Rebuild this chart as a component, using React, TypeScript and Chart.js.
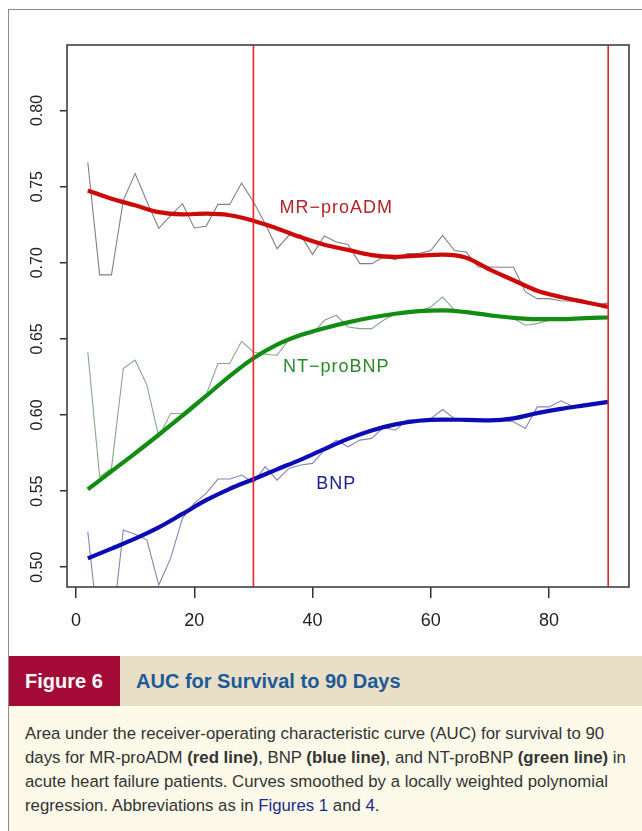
import React, { useEffect, useRef } from "react";
import { Chart, registerables } from "chart.js";

Chart.register(...registerables);

// ---- data ----
const rawDays = [2, 4, 6, 8, 10, 12, 14, 16, 18, 20, 22, 24, 26, 28, 30, 32, 34, 36, 38, 40, 42, 44, 46, 48, 50, 52, 54, 56, 58, 60, 62, 64, 66, 68, 70, 72, 74, 76, 78, 80, 82, 84, 86, 88, 90];
const mrRaw = [0.766, 0.692, 0.692, 0.741, 0.7585, 0.740, 0.7226, 0.731, 0.7388, 0.7228, 0.7239, 0.7383, 0.7383, 0.7523, 0.740, 0.7256, 0.7092, 0.718, 0.7183, 0.7055, 0.7175, 0.7136, 0.712, 0.6994, 0.6994, 0.7038, 0.702, 0.706, 0.706, 0.708, 0.718, 0.708, 0.707, 0.6972, 0.6972, 0.697, 0.697, 0.6808, 0.6764, 0.6764, 0.675, 0.6747, 0.6735, 0.672, 0.6736];
const ntRaw = [0.6414, 0.5594, 0.5649, 0.6305, 0.636, 0.6196, 0.5856, 0.601, 0.601, 0.6075, 0.613, 0.6338, 0.6338, 0.6484, 0.6414, 0.6399, 0.6392, 0.6495, 0.6517, 0.6535, 0.6622, 0.6655, 0.6578, 0.6567, 0.6567, 0.6622, 0.6666, 0.6683, 0.6683, 0.6709, 0.6775, 0.6688, 0.6677, 0.6666, 0.6644, 0.664, 0.6633, 0.6589, 0.66, 0.6622, 0.6633, 0.6633, 0.664, 0.664, 0.6642];
const bnpRaw = [0.5233, 0.452, 0.455, 0.5244, 0.5216, 0.5178, 0.4883, 0.5058, 0.5321, 0.5419, 0.5485, 0.5579, 0.5579, 0.5605, 0.5555, 0.566, 0.5572, 0.5649, 0.5671, 0.5682, 0.5769, 0.5835, 0.5791, 0.5835, 0.5846, 0.5918, 0.59, 0.5966, 0.597, 0.5976, 0.6036, 0.5976, 0.5966, 0.5962, 0.5962, 0.5962, 0.5955, 0.5911, 0.6053, 0.6053, 0.6093, 0.6058, 0.6071, 0.608, 0.6076];

const smoothDays = [2, 6, 10, 14, 18, 22, 26, 30, 34, 38, 42, 46, 50, 54, 58, 62, 66, 70, 74, 78, 82, 86, 90];
const mrSmooth = [0.7475, 0.742, 0.7377, 0.7332, 0.7318, 0.7322, 0.7312, 0.7276, 0.7225, 0.7168, 0.7118, 0.7084, 0.705, 0.7038, 0.7047, 0.7053, 0.7033, 0.6955, 0.6885, 0.6816, 0.6775, 0.6742, 0.671];
const ntSmooth = [0.5511, 0.563, 0.5748, 0.587, 0.5995, 0.6125, 0.6255, 0.6372, 0.6462, 0.6525, 0.657, 0.6608, 0.664, 0.6665, 0.6682, 0.6687, 0.6675, 0.6655, 0.6638, 0.663, 0.663, 0.6636, 0.664];
const bnpSmooth = [0.5058, 0.5122, 0.5188, 0.5262, 0.535, 0.544, 0.5515, 0.5578, 0.5643, 0.5707, 0.5776, 0.5843, 0.5898, 0.5938, 0.5962, 0.597, 0.5968, 0.5965, 0.5978, 0.6012, 0.604, 0.6063, 0.6086];

const xTicks = [0, 20, 40, 60, 80];
const yTicks = [0.5, 0.55, 0.6, 0.65, 0.7, 0.75, 0.8];
const xRange = [-1.52, 93.52];
const yRange = [0.487, 0.843];
const cutoffDays = [30, 90];

const seriesNames = ["MR−proADM", "NT−proBNP", "BNP"];
const seriesLabelDay = [44, 44, 44];
const seriesLabelAUC = [0.7357, 0.6314, 0.5546];

const FONT = "'Liberation Sans', Arial, Helvetica, sans-serif";

const pts = (xs: number[], ys: number[]) => xs.map((x, i) => ({ x, y: ys[i] }));

const textPlugin = {
  id: "boxAndLabels",
  afterDatasetsDraw(chart: any) {
    const { ctx, chartArea, scales } = chart;
    ctx.save();
    ctx.strokeStyle = "#333";
    ctx.lineWidth = 1.5;
    ctx.strokeRect(chartArea.left, chartArea.top, chartArea.right - chartArea.left, chartArea.bottom - chartArea.top);
    const colors = ["#b3242a", "#2a8a2a", "#1c2290"];
    ctx.font = `18px ${FONT}`;
    ctx.textAlign = "center";
    ctx.textBaseline = "middle";
    try { (ctx as any).letterSpacing = "1px"; } catch (e) {}
    seriesNames.forEach((name, i) => {
      ctx.fillStyle = colors[i];
      ctx.fillText(name, scales.x.getPixelForValue(seriesLabelDay[i]), scales.y.getPixelForValue(seriesLabelAUC[i]));
    });
    ctx.restore();
  },
};

function ChartCanvas() {
  const ref = useRef<HTMLCanvasElement | null>(null);
  useEffect(() => {
    if (!ref.current) return;
    const vLine = (d: number) => [{ x: d, y: yRange[0] }, { x: d, y: yRange[1] }];
    const chart = new Chart(ref.current, {
      type: "line",
      data: {
        datasets: [
          ...cutoffDays.map((d) => ({ data: vLine(d), borderColor: "#e8262b", borderWidth: 1.6, pointRadius: 0, tension: 0 })),
          { data: pts(smoothDays, mrSmooth), borderColor: "#cc0a0a", borderWidth: 4.2, pointRadius: 0, cubicInterpolationMode: "monotone" },
          { data: pts(smoothDays, ntSmooth), borderColor: "#138c13", borderWidth: 4.2, pointRadius: 0, cubicInterpolationMode: "monotone" },
          { data: pts(smoothDays, bnpSmooth), borderColor: "#0c0cb4", borderWidth: 4.2, pointRadius: 0, cubicInterpolationMode: "monotone" },
          { data: pts(rawDays, mrRaw), borderColor: "#808080", borderWidth: 1.1, pointRadius: 0, tension: 0 },
          { data: pts(rawDays, ntRaw), borderColor: "#88a888", borderWidth: 1.1, pointRadius: 0, tension: 0 },
          { data: pts(rawDays, bnpRaw), borderColor: "#8484b4", borderWidth: 1.1, pointRadius: 0, tension: 0 },
        ] as any,
      },
      options: {
        animation: false,
        responsive: false,
        events: [],
        layout: { padding: { left: 0, top: 45, right: 13, bottom: 0 } },
        plugins: { legend: { display: false }, tooltip: { enabled: false }, title: { display: false } },
        scales: {
          x: {
            type: "linear",
            min: xRange[0],
            max: xRange[1],
            border: { display: false },
            grid: { display: true, drawOnChartArea: false, drawTicks: true, tickLength: 11, color: "#333", lineWidth: 1.5 },
            ticks: { autoSkip: false, padding: 12, color: "#222", font: { size: 18, family: FONT }, maxRotation: 0, callback: (v: any) => String(v) },
            afterBuildTicks: (s: any) => { s.ticks = xTicks.map((v) => ({ value: v })); },
            afterFit: (s: any) => { s.height = 63; },
          },
          y: {
            type: "linear",
            min: yRange[0],
            max: yRange[1],
            border: { display: false },
            grid: { display: true, drawOnChartArea: false, drawTicks: true, tickLength: 7, color: "#333", lineWidth: 1.5 },
            ticks: { autoSkip: false, minRotation: 90, maxRotation: 90, crossAlign: "center", padding: 7, color: "#222", font: { size: 16, family: FONT }, callback: (v: any) => Number(v).toFixed(2) },
            afterBuildTicks: (s: any) => { s.ticks = yTicks.map((v) => ({ value: v })); },
            afterFit: (s: any) => { s.width = 67; },
          },
        },
      } as any,
      plugins: [textPlugin],
    });
    return () => chart.destroy();
  }, []);
  return <canvas ref={ref} width={642} height={650} style={{ position: "absolute", left: 0, top: 0, width: 642, height: 650 }} />;
}

export default function App() {
  const link = { color: "#1b2a8c" };
  return (
    <div style={{ position: "absolute", left: 0, top: 0, width: 642, height: 831, overflow: "hidden", background: "#fff", fontFamily: FONT }}>
      <div style={{ position: "absolute", left: 8, top: 9, width: 640, height: 830, borderTop: "1px solid #8a8a8a", borderLeft: "1px solid #8a8a8a" }} />
      <ChartCanvas />
      <div style={{ position: "absolute", left: 9, top: 656, width: 633, height: 50, background: "#e9dfc7" }}>
        <div style={{ position: "absolute", left: 0, top: 0, width: 111, height: 50, background: "#a40b37" }} />
        <div style={{ position: "absolute", left: 16, top: 0, height: 50, lineHeight: "50px", color: "#fff", fontWeight: "bold", fontSize: 20 }}>Figure 6</div>
        <div style={{ position: "absolute", left: 127, top: 0, height: 50, lineHeight: "50px", color: "#1d5a98", fontWeight: "bold", fontSize: 20, whiteSpace: "nowrap" }}>AUC for Survival to 90 Days</div>
      </div>
      <div style={{ position: "absolute", left: 9, top: 706, width: 633, height: 125, background: "#fdfae9" }}>
        <div style={{ position: "absolute", left: 16, top: 16, fontSize: 16.8, lineHeight: "24px", color: "#333", whiteSpace: "nowrap" }}>
          Area under the receiver-operating characteristic curve (AUC) for survival to 90<br />
          days for MR-proADM <b>(red line)</b>, BNP <b>(blue line)</b>, and NT-proBNP <b>(green line)</b> in<br />
          acute heart failure patients. Curves smoothed by a locally weighted polynomial<br />
          regression. Abbreviations as in <span style={link}>Figures 1</span> and <span style={link}>4</span>.
        </div>
      </div>
    </div>
  );
}
